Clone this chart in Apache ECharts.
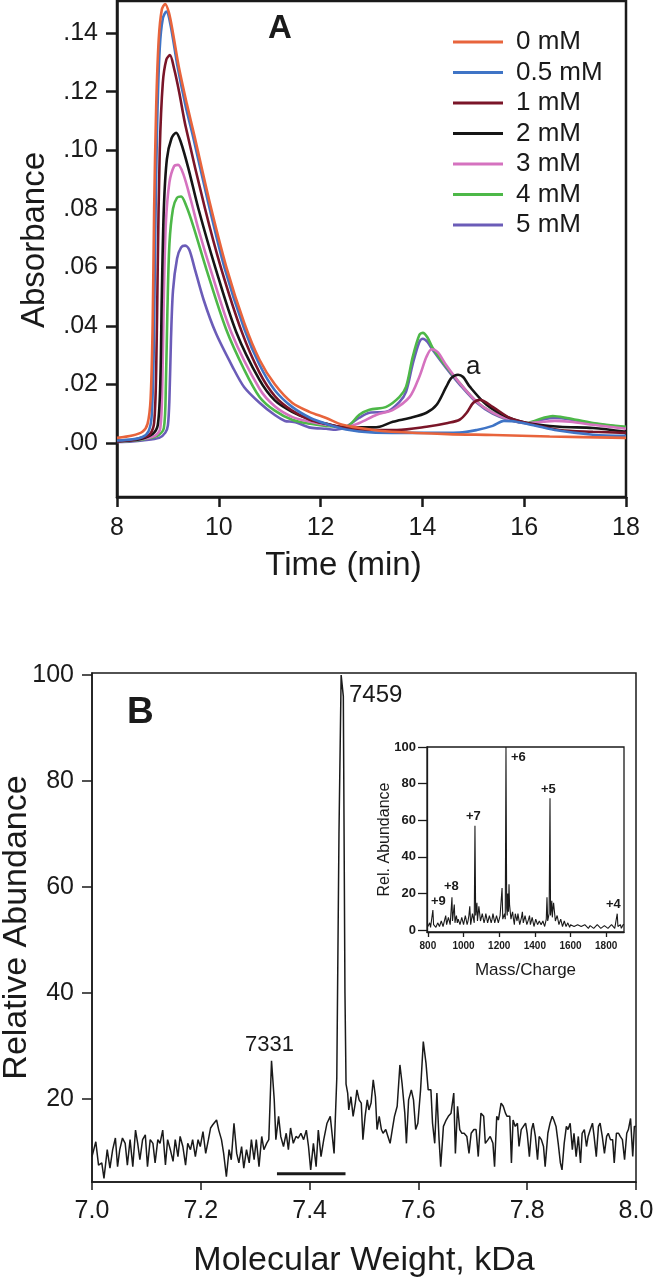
<!DOCTYPE html>
<html>
<head>
<meta charset="utf-8">
<script src="https://cdn.jsdelivr.net/npm/echarts@6/dist/echarts.min.js"></script>
<style>
html,body{margin:0;padding:0;background:#fff;}
#chart{width:654px;height:1280px;}
</style>
</head>
<body>
<div id="chart"></div>
<script>
// ---------- Panel A: absorbance vs time ----------
const seriesNames = ['0 mM','0.5 mM','1 mM','2 mM','3 mM','4 mM','5 mM'];
const seriesColors = ['#E8643C','#3F74C6','#7A1528','#151515','#D572BF','#4DB848','#6B5CB8'];

const abs0 = [[8.0,0.0017],[8.3,0.0025],[8.5,0.0038],[8.6,0.0065],[8.66,0.015],[8.70,0.04],[8.73,0.08],[8.77,0.115],[8.82,0.138],[8.88,0.148],[8.945,0.150],[9.02,0.147],[9.1,0.140],[9.22,0.128],[9.37,0.116],[9.52,0.105],[9.81,0.083],[10.15,0.060],[10.5,0.041],[10.8,0.0284],[11.1,0.02],[11.44,0.0137],[11.78,0.0106],[12.11,0.0085],[12.43,0.0062],[13.0,0.0045],[13.4,0.0038],[14.5,0.003],[15.4,0.0027],[16.5,0.0022],[18,0.0017]];
const abs05 = [[8.0,0.0008],[8.3,0.0012],[8.5,0.002],[8.62,0.004],[8.68,0.009],[8.72,0.03],[8.75,0.07],[8.79,0.11],[8.84,0.135],[8.9,0.145],[8.97,0.1474],[9.05,0.143],[9.19,0.1286],[9.35,0.115],[9.49,0.105],[9.78,0.083],[10.11,0.060],[10.5,0.039],[10.8,0.0267],[11.1,0.018],[11.44,0.0123],[11.8,0.0085],[12.11,0.0065],[12.5,0.0046],[13.0,0.0036],[14.0,0.0034],[14.73,0.0035],[15.07,0.0044],[15.38,0.0058],[15.6,0.0075],[15.79,0.0074],[16.05,0.0065],[16.6,0.0044],[17.35,0.0028],[18,0.0024]];
const abs1 = [[8.0,0.0006],[8.3,0.001],[8.5,0.0018],[8.65,0.003],[8.73,0.007],[8.77,0.025],[8.8,0.06],[8.84,0.10],[8.9,0.123],[8.97,0.131],[9.04,0.1325],[9.12,0.128],[9.22,0.12],[9.35,0.108],[9.73,0.080],[10.04,0.060],[10.45,0.038],[10.8,0.024],[11.1,0.016],[11.44,0.011],[11.8,0.0078],[12.11,0.0065],[12.5,0.005],[13.0,0.0044],[13.5,0.0044],[14.08,0.0055],[14.5,0.0068],[14.73,0.0079],[14.87,0.0103],[15.0,0.0137],[15.13,0.0147],[15.38,0.0123],[15.72,0.0085],[16.05,0.0068],[16.7,0.0044],[17.35,0.0038],[18,0.0034]];
const abs2 = [[8.0,0.0005],[8.3,0.0009],[8.5,0.0015],[8.7,0.003],[8.8,0.006],[8.85,0.02],[8.88,0.05],[8.92,0.08],[8.98,0.097],[9.07,0.104],[9.16,0.106],[9.25,0.103],[9.4,0.094],[9.6,0.080],[9.93,0.060],[10.34,0.038],[10.8,0.0215],[11.1,0.0145],[11.44,0.0106],[11.8,0.008],[12.11,0.0065],[12.5,0.0053],[13.0,0.0053],[13.16,0.0055],[13.42,0.0072],[13.75,0.0085],[14.08,0.0103],[14.28,0.013],[14.47,0.0192],[14.57,0.0222],[14.7,0.0233],[14.8,0.0225],[14.93,0.0192],[15.26,0.013],[15.66,0.0089],[16.05,0.0068],[16.7,0.0055],[17.35,0.0051],[18,0.0038]];
const abs3 = [[8.0,0.0004],[8.3,0.0008],[8.5,0.0013],[8.75,0.0025],[8.85,0.005],[8.89,0.02],[8.92,0.05],[8.96,0.075],[9.03,0.089],[9.12,0.0945],[9.2,0.095],[9.3,0.092],[9.45,0.083],[9.6,0.073],[9.86,0.058],[10.24,0.038],[10.8,0.0185],[11.1,0.0125],[11.44,0.0089],[11.8,0.0072],[12.11,0.0062],[12.5,0.0055],[12.76,0.0068],[13.1,0.0096],[13.42,0.0113],[13.75,0.0157],[13.94,0.0226],[14.08,0.0294],[14.18,0.032],[14.3,0.031],[14.47,0.0265],[14.73,0.0205],[15.07,0.0140],[15.38,0.0103],[15.72,0.0079],[16.05,0.0068],[16.37,0.0072],[16.6,0.0075],[16.9,0.0072],[17.35,0.0062],[18,0.0048]];
const abs4 = [[8.0,0.0004],[8.3,0.0007],[8.5,0.0012],[8.8,0.0025],[8.92,0.005],[8.96,0.02],[8.99,0.045],[9.03,0.068],[9.1,0.080],[9.18,0.0838],[9.26,0.0842],[9.36,0.081],[9.5,0.074],[9.78,0.058],[10.14,0.039],[10.5,0.025],[10.8,0.0157],[11.1,0.011],[11.44,0.0079],[11.8,0.0065],[12.11,0.0058],[12.5,0.0055],[12.76,0.0096],[12.96,0.0113],[13.29,0.0123],[13.55,0.0157],[13.68,0.0192],[13.81,0.0294],[13.94,0.0369],[14.01,0.0376],[14.1,0.036],[14.2,0.0325],[14.47,0.026],[14.73,0.0205],[15.07,0.0140],[15.38,0.0103],[15.72,0.0079],[16.05,0.0068],[16.37,0.0085],[16.56,0.0092],[16.84,0.0085],[17.35,0.0068],[18,0.0055]];
const abs5 = [[8.0,0.0003],[8.3,0.0005],[8.5,0.0008],[8.83,0.0017],[8.95,0.0035],[9.0,0.006],[9.03,0.015],[9.06,0.035],[9.1,0.052],[9.18,0.063],[9.26,0.0668],[9.34,0.0674],[9.42,0.066],[9.52,0.060],[9.7,0.049],[9.94,0.0376],[10.27,0.026],[10.5,0.019],[10.8,0.0137],[11.1,0.0095],[11.3,0.0075],[11.44,0.0072],[11.55,0.0068],[11.8,0.0052],[12.11,0.0048],[12.3,0.0045],[12.5,0.0055],[12.76,0.0086],[12.96,0.0103],[13.29,0.0106],[13.55,0.0140],[13.68,0.0175],[13.81,0.027],[13.94,0.0345],[14.01,0.0356],[14.1,0.0345],[14.2,0.0318],[14.47,0.0255],[14.73,0.0200],[15.07,0.0137],[15.38,0.0100],[15.72,0.0077],[16.05,0.0067],[16.37,0.0080],[16.6,0.0085],[16.9,0.0080],[17.35,0.0066],[18,0.0052]];
const absData = [abs0, abs05, abs1, abs2, abs3, abs4, abs5];

const timeTicks = [8,10,12,14,16,18];
const absTicks = [0,0.02,0.04,0.06,0.08,0.10,0.12,0.14];

// ---------- Panel B: deconvoluted mass spectrum ----------
const mwSpectrum = [
[7.000,9.1],[7.001,9.1],[7.007,11.9],[7.012,7.5],[7.018,7.9],[7.022,5.0],[7.028,10.4],[7.033,6.9],[7.038,10.4],[7.043,12.6],[7.047,7.2],[7.051,10.4],[7.056,12.6],[7.061,11.6],[7.065,7.5],[7.070,12.3],[7.075,7.2],[7.080,14.1],[7.084,11.6],[7.088,8.5],[7.093,12.3],[7.098,13.2],[7.102,7.2],[7.107,12.3],[7.112,11.6],[7.116,7.9],[7.121,12.3],[7.125,11.6],[7.130,14.1],[7.135,7.5],[7.139,12.3],[7.144,10.4],[7.149,8.2],[7.153,12.3],[7.158,9.1],[7.162,12.9],[7.167,11.0],[7.172,7.5],[7.176,11.6],[7.181,10.4],[7.185,12.3],[7.190,9.1],[7.195,12.3],[7.199,11.0],[7.204,13.8],[7.209,9.7],[7.214,12.3],[7.218,14.5],[7.222,15.1],[7.229,16.0],[7.233,14.1],[7.238,12.3],[7.242,9.7],[7.247,5.3],[7.252,10.4],[7.256,8.5],[7.261,15.4],[7.266,9.7],[7.270,7.9],[7.275,11.0],[7.279,6.9],[7.284,10.4],[7.289,7.9],[7.293,12.3],[7.298,8.5],[7.302,12.3],[7.307,7.2],[7.312,12.9],[7.316,10.4],[7.321,11.6],[7.325,12.3],[7.330,27.2],[7.335,19.8],[7.338,12.3],[7.343,16.7],[7.347,12.9],[7.352,11.0],[7.357,13.5],[7.361,10.4],[7.365,14.5],[7.370,11.6],[7.375,12.9],[7.379,12.6],[7.384,13.5],[7.389,12.3],[7.394,14.1],[7.398,11.0],[7.402,6.6],[7.407,11.6],[7.412,7.2],[7.416,14.1],[7.421,9.1],[7.426,12.3],[7.432,15.4],[7.438,16.7],[7.445,9.7],[7.450,24],[7.454,70],[7.458,100],[7.462,96],[7.465,40],[7.467,22.8],[7.470,21.1],[7.472,17.9],[7.476,20.4],[7.480,16.7],[7.484,19.2],[7.487,21.7],[7.491,19.8],[7.495,19.2],[7.498,12.3],[7.502,16.7],[7.506,19.8],[7.509,17.9],[7.513,19.2],[7.517,23.6],[7.521,20.4],[7.524,14.2],[7.528,16.7],[7.532,14.2],[7.535,13.5],[7.540,14.2],[7.544,12.9],[7.548,11.6],[7.552,14.2],[7.556,16.7],[7.561,18.6],[7.566,26.4],[7.570,22.9],[7.575,17.3],[7.578,11.6],[7.582,19.8],[7.587,21.7],[7.591,19.8],[7.595,14.2],[7.599,15.4],[7.604,21.7],[7.609,30.8],[7.614,26.7],[7.618,21.7],[7.623,21.7],[7.626,15.4],[7.630,11.6],[7.634,21.1],[7.638,12.3],[7.641,7.2],[7.646,14.8],[7.651,16.0],[7.655,16.7],[7.660,17.3],[7.665,21.1],[7.668,9.7],[7.672,18.6],[7.676,14.2],[7.680,13.5],[7.684,13.5],[7.689,12.9],[7.693,9.7],[7.697,13.5],[7.702,14.2],[7.706,14.2],[7.710,9.1],[7.715,17.3],[7.720,16.7],[7.723,11.6],[7.728,12.3],[7.732,12.9],[7.737,11.6],[7.740,7.2],[7.744,16.7],[7.747,16.0],[7.752,19.2],[7.756,18.6],[7.760,17.3],[7.763,16.7],[7.768,16.7],[7.771,7.9],[7.774,16.0],[7.778,14.8],[7.782,15.4],[7.785,11.0],[7.789,14.2],[7.793,14.8],[7.797,15.4],[7.800,13.5],[7.804,9.1],[7.808,14.2],[7.811,15.4],[7.815,12.9],[7.819,8.5],[7.822,12.9],[7.826,12.3],[7.830,11.0],[7.833,7.2],[7.838,13.5],[7.842,15.4],[7.846,16.7],[7.849,16.0],[7.853,14.8],[7.857,11.6],[7.861,7.9],[7.864,6.6],[7.868,11.6],[7.872,14.8],[7.875,14.2],[7.879,15.4],[7.883,10.4],[7.886,13.5],[7.890,9.1],[7.894,12.9],[7.898,7.9],[7.901,13.5],[7.905,14.2],[7.909,11.0],[7.912,12.9],[7.916,14.2],[7.920,15.4],[7.923,12.9],[7.927,9.1],[7.931,14.8],[7.934,15.4],[7.938,12.9],[7.942,9.7],[7.946,12.9],[7.949,13.5],[7.953,12.3],[7.957,12.3],[7.960,7.9],[7.964,13.5],[7.968,13.5],[7.971,12.9],[7.975,12.3],[7.979,8.5],[7.983,13.5],[7.986,14.2],[7.990,16.3],[7.994,9.1],[7.997,14.8],[8.000,14.8]
];
const rangeBar = [[7.34,5.85],[7.466,5.85]];
const mwTicks = [7.0,7.2,7.4,7.6,7.8,8.0];
const abundTicks = [20,40,60,80,100];

// ---------- Inset: raw m/z spectrum ----------
const mzSpectrum = [
[800,2],[805,3],[810,4],[815,1.5],[820,2],[828,11],[832,3],[836,2],[840,4],[845,1.5],[850,2],[855,4],[860,5],[865,2],[870,3],[875,5],[880,6],[885,2],[890,3],[895,6],[900,8],[905,3],[910,4],[915,7],[920,7],[925,3],[930,3],[935,18],[938,5],[942,6],[948,14],[952,4],[955,6],[960,8],[965,4],[970,6],[975,7],[980,3],[985,5],[990,7],[995,8],[1000,3],[1005,4],[1010,8],[1015,9],[1020,3],[1025,5],[1030,8],[1035,13],[1040,3],[1045,6],[1050,9],[1055,10],[1060,4],[1064,57],[1068,8],[1072,12],[1075,15],[1078,5],[1082,9],[1086,13],[1090,14],[1095,5],[1100,7],[1105,9],[1110,10],[1115,4],[1120,6],[1125,9],[1130,9],[1135,4],[1140,5],[1145,8],[1150,8],[1155,4],[1160,6],[1165,9],[1170,9],[1175,4],[1180,5],[1185,8],[1190,8],[1195,4],[1200,6],[1205,8],[1210,7],[1216,23],[1220,6],[1225,5],[1230,9],[1234,6],[1238,100],[1242,12],[1245,8],[1248,20],[1252,10],[1255,25],[1258,14],[1262,14],[1266,6],[1270,8],[1275,10],[1280,6],[1285,3],[1290,9],[1295,7],[1300,5],[1305,9],[1310,8],[1315,3],[1320,4],[1325,7],[1330,10],[1335,4],[1340,5],[1345,8],[1350,7],[1355,3],[1360,4],[1365,6],[1370,8],[1375,3],[1380,5],[1385,7],[1390,6],[1395,2],[1400,4],[1405,6],[1410,7],[1415,3],[1420,3],[1425,5],[1430,6],[1435,3],[1440,4],[1445,5],[1450,6],[1455,2],[1460,3],[1464,6],[1468,18],[1472,5],[1476,5],[1480,9],[1485,72],[1488,8],[1492,12],[1495,16],[1498,7],[1500,10],[1505,15],[1510,14],[1515,5],[1520,6],[1525,8],[1530,8],[1535,3],[1540,4],[1545,6],[1550,6],[1555,2],[1560,3],[1565,5],[1570,5],[1575,2],[1580,2],[1585,4],[1590,4],[1595,1.5],[1600,3],[1610,3.5],[1620,2],[1630,1],[1640,3],[1650,2.5],[1660,2],[1670,1],[1680,3],[1690,2],[1700,1],[1710,2.5],[1720,3],[1730,1],[1740,2],[1750,3],[1760,3],[1770,1],[1780,1],[1790,2.5],[1800,3],[1810,1],[1820,2],[1830,3],[1840,3],[1848,1],[1855,2],[1862,9],[1866,2],[1870,1.5],[1880,3],[1885,1],[1890,2],[1895,3],[1900,3]
];
const mzTicks = [800,1000,1200,1400,1600,1800];
const relTicks = [0,20,40,60,80,100];

const FONT = "'Liberation Sans', Arial, Helvetica, sans-serif";

const chart = echarts.init(document.getElementById('chart'), null, {renderer:'canvas'});

const aSeries = absData.map((d, i) => ({
  name: seriesNames[i], type: 'line', xAxisIndex: 0, yAxisIndex: 0,
  data: d, smooth: 0.3, showSymbol: false, symbol: 'none',
  lineStyle: {color: seriesColors[i], width: 2.6}, itemStyle: {color: seriesColors[i]},
  z: 10 - i
}));

const gridBase = {show: true, borderColor: '#1a1a1a', backgroundColor: 'transparent', containLabel: false, outerBoundsMode: 'none'};

const option = {
  animation: false,
  backgroundColor: '#ffffff',
  textStyle: {fontFamily: FONT},
  legend: {
    data: seriesNames,
    orient: 'vertical', left: 453, top: 29, padding: 0,
    icon: 'rect', itemWidth: 50, itemHeight: 3, itemGap: 4.5,
    textStyle: {fontSize: 26, lineHeight: 26, color: '#1a1a1a', fontFamily: FONT, padding: [0,0,0,8]},
    selectedMode: false
  },
  grid: [
    Object.assign({left: 117, right: 28, top: 1, height: 496, borderWidth: 2.5}, gridBase),
    Object.assign({left: 92, right: 18, top: 673, height: 509, borderWidth: 1.5}, gridBase),
    Object.assign({left: 427, width: 197, top: 747, height: 185, borderWidth: 1.3}, gridBase)
  ],
  xAxis: [
    {gridIndex: 0, type: 'value', min: 8, max: 18, interval: 2,
      name: 'Time (min)', nameLocation: 'middle', nameGap: 52, nameMoveOverlap: false,
      nameTextStyle: {fontSize: 33, color: '#1a1a1a', fontFamily: FONT, padding: [0, 56, 0, 0]},
      axisLine: {show: true, onZero: false, lineStyle: {color: '#1a1a1a', width: 2.5}},
      axisTick: {show: true, inside: false, length: 10, lineStyle: {color: '#1a1a1a', width: 2.5}, customValues: timeTicks},
      axisLabel: {fontSize: 25, color: '#1a1a1a', margin: 19, customValues: timeTicks},
      splitLine: {show: false}},
    {gridIndex: 1, type: 'value', min: 7.0, max: 8.0, interval: 0.2,
      name: 'Molecular Weight, kDa', nameLocation: 'middle', nameGap: 62, nameMoveOverlap: false,
      nameTextStyle: {fontSize: 34, color: '#1a1a1a', fontFamily: FONT},
      axisLine: {show: true, onZero: false, lineStyle: {color: '#1a1a1a', width: 1.5}},
      axisTick: {show: true, inside: false, length: 8, lineStyle: {color: '#1a1a1a', width: 1.5}, customValues: mwTicks},
      axisLabel: {fontSize: 25, color: '#1a1a1a', margin: 17, customValues: mwTicks, formatter: v => Number(v).toFixed(1)},
      splitLine: {show: false}},
    {gridIndex: 2, type: 'value', min: 795, max: 1900,
      name: 'Mass/Charge', nameLocation: 'middle', nameGap: 30, nameMoveOverlap: false,
      nameTextStyle: {fontSize: 17, color: '#1a1a1a', fontFamily: FONT},
      axisLine: {show: true, onZero: false, lineStyle: {color: '#1a1a1a', width: 1.3}},
      axisTick: {show: true, inside: false, length: 5, lineStyle: {color: '#1a1a1a', width: 1.3}, customValues: mzTicks},
      axisLabel: {fontSize: 10, fontWeight: 'bold', color: '#1a1a1a', margin: 9, customValues: mzTicks, formatter: v => String(Math.round(v))},
      splitLine: {show: false}}
  ],
  yAxis: [
    {gridIndex: 0, type: 'value', min: -0.0185, max: 0.151,
      name: 'Absorbance', nameLocation: 'middle', nameGap: 66, nameRotate: 90, nameMoveOverlap: false,
      nameTextStyle: {fontSize: 33, color: '#1a1a1a', fontFamily: FONT, padding: [0, 0, 0, 18]},
      axisLine: {show: true, onZero: false, lineStyle: {color: '#1a1a1a', width: 2.5}},
      axisTick: {show: true, inside: false, length: 11, lineStyle: {color: '#1a1a1a', width: 2.5}, customValues: absTicks},
      axisLabel: {fontSize: 25, color: '#1a1a1a', margin: 19, customValues: absTicks,
        formatter: v => Number(v).toFixed(2).replace(/^0/, '')},
      splitLine: {show: false}},
    {gridIndex: 1, type: 'value', min: 4.3, max: 100.4,
      name: 'Relative Abundance', nameLocation: 'middle', nameGap: 58, nameRotate: 90, nameMoveOverlap: false,
      nameTextStyle: {fontSize: 34, color: '#1a1a1a', fontFamily: FONT},
      axisLine: {show: true, onZero: false, lineStyle: {color: '#1a1a1a', width: 1.5}},
      axisTick: {show: true, inside: false, length: 10, lineStyle: {color: '#1a1a1a', width: 1.5}, customValues: abundTicks},
      axisLabel: {fontSize: 25, color: '#1a1a1a', margin: 18, customValues: abundTicks},
      splitLine: {show: false}},
    {gridIndex: 2, type: 'value', min: -1, max: 100,
      name: 'Rel. Abundance', nameLocation: 'middle', nameGap: 34, nameRotate: 90, nameMoveOverlap: false,
      nameTextStyle: {fontSize: 16, color: '#1a1a1a', fontFamily: FONT},
      axisLine: {show: true, onZero: false, lineStyle: {color: '#1a1a1a', width: 1.3}},
      axisTick: {show: true, inside: false, length: 9, lineStyle: {color: '#1a1a1a', width: 1.3}, customValues: relTicks},
      axisLabel: {fontSize: 13, fontWeight: 'bold', color: '#1a1a1a', margin: 11, customValues: relTicks},
      splitLine: {show: false}}
  ],
  series: aSeries.concat([
    {name: 'mw', type: 'line', xAxisIndex: 1, yAxisIndex: 1, data: mwSpectrum, showSymbol: false, symbol: 'none',
      lineStyle: {color: '#1a1a1a', width: 1.5}, z: 5},
    {name: 'bar', type: 'line', xAxisIndex: 1, yAxisIndex: 1, data: rangeBar, showSymbol: false, symbol: 'none',
      lineStyle: {color: '#1a1a1a', width: 3}, z: 5},
    {name: 'mz', type: 'line', xAxisIndex: 2, yAxisIndex: 2, data: mzSpectrum, showSymbol: false, symbol: 'none',
      lineStyle: {color: '#1a1a1a', width: 1.1}, z: 5}
  ]),
  graphic: [
    {type: 'text', left: 268, top: 12, style: {text: 'A', font: 'bold 33px ' + FONT, fill: '#1a1a1a'}},
    {type: 'text', left: 466, top: 354, style: {text: 'a', font: '26px ' + FONT, fill: '#1a1a1a'}},
    {type: 'text', left: 127, top: 694, style: {text: 'B', font: 'bold 37px ' + FONT, fill: '#1a1a1a'}},
    {type: 'text', left: 349, top: 683, style: {text: '7459', font: '24px ' + FONT, fill: '#1a1a1a'}},
    {type: 'text', left: 245, top: 1034, style: {text: '7331', font: '22px ' + FONT, fill: '#1a1a1a'}},
    {type: 'text', left: 511, top: 751, style: {text: '+6', font: 'bold 13px ' + FONT, fill: '#1a1a1a'}},
    {type: 'text', left: 541, top: 783, style: {text: '+5', font: 'bold 13px ' + FONT, fill: '#1a1a1a'}},
    {type: 'text', left: 466, top: 810, style: {text: '+7', font: 'bold 13px ' + FONT, fill: '#1a1a1a'}},
    {type: 'text', left: 444, top: 880, style: {text: '+8', font: 'bold 13px ' + FONT, fill: '#1a1a1a'}},
    {type: 'text', left: 431, top: 895, style: {text: '+9', font: 'bold 13px ' + FONT, fill: '#1a1a1a'}},
    {type: 'text', left: 606, top: 898, style: {text: '+4', font: 'bold 13px ' + FONT, fill: '#1a1a1a'}}
  ]
};
chart.setOption(option);
</script>
</body>
</html>
